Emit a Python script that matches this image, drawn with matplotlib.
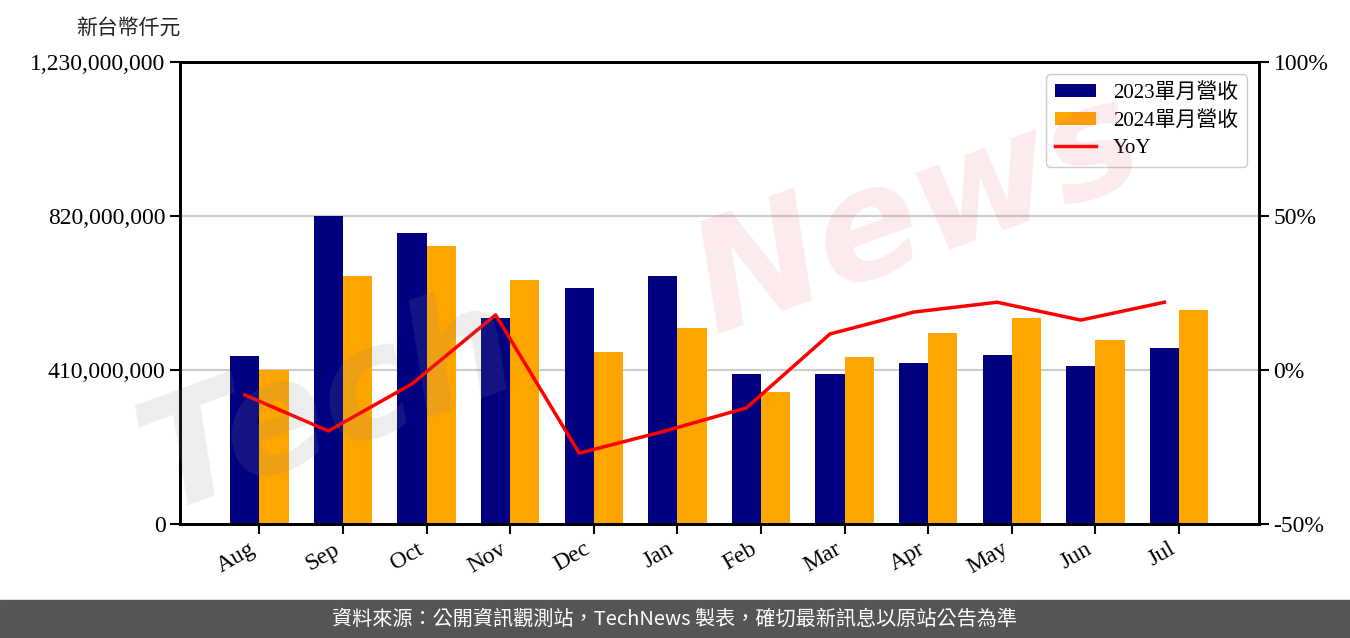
import matplotlib

matplotlib.use("Agg")
import matplotlib.pyplot as plt
import numpy as np
from matplotlib.ticker import FuncFormatter

months = ["Aug", "Sep", "Oct", "Nov", "Dec", "Jan", "Feb", "Mar", "Apr", "May", "Jun", "Jul"]
rev_2023 = [447e6, 820e6, 775e6, 548e6, 628e6, 660e6, 399e6, 399e6, 429e6, 450e6, 421e6, 468e6]
rev_2024 = [410e6, 660e6, 740e6, 650e6, 458e6, 522e6, 351e6, 445e6, 508e6, 548e6, 490e6, 570e6]
yoy = [-8.1, -19.8, -4.5, 17.9, -27.0, -20.0, -12.3, 11.7, 18.8, 22.0, 16.2, 22.0]
left_ticks = [0, 410e6, 820e6, 1230e6]
right_ticks = [-50, 0, 50, 100]

SERIF = ["Liberation Serif", "Noto Sans CJK TC"]
CJK = ["Noto Sans CJK TC", "DejaVu Sans"]

fig = plt.figure(figsize=(13.5, 6.38), dpi=100)
ax = fig.add_axes([180 / 1350, 1 - 524 / 638, 1079 / 1350, 462 / 638])
ax2 = ax.twinx()

x = np.arange(len(months))
w = 0.35
ax.bar(x - w / 2, rev_2023, w, color="#000080", label="2023單月營收", zorder=2)
ax.bar(x + w / 2, rev_2024, w, color="#ffa500", label="2024單月營收", zorder=2)
line, = ax2.plot(x - w / 2, yoy, color="red", lw=2.5, label="YoY", zorder=3)

ax.set_xlim(-0.95, len(months) - 1 + 0.957)
ax.set_ylim(0, 1230e6)
ax2.set_ylim(-50, 100)
ax.set_yticks(left_ticks)
ax.yaxis.set_major_formatter(FuncFormatter(lambda v, p: f"{int(v):,}"))
ax2.set_yticks(right_ticks)
ax2.yaxis.set_major_formatter(FuncFormatter(lambda v, p: f"{int(v)}%"))
ax.grid(axis="y", color="#cccccc", lw=1.5, zorder=0)

ax.set_xticks(x)
ax.set_xticklabels(months, rotation=30, ha="right", fontsize=16, family=SERIF)
for a in (ax, ax2):
    for s in a.spines.values():
        s.set_linewidth(2)
    a.tick_params(width=1.5, length=7, labelsize=17)
    for lab in a.get_yticklabels():
        lab.set_family(SERIF)

fig.text(128 / 1350, 1 - 28 / 638, "新台幣仟元", ha="center", va="center",
         fontsize=15, family=CJK, color="#222222")

h1, l1 = ax.get_legend_handles_labels()
leg = ax2.legend(h1 + [line], l1 + ["YoY"], loc="upper right",
                 prop={"family": SERIF, "size": 15}, handlelength=2.0,
                 handleheight=0.6, borderaxespad=0.6, labelspacing=0.4,
                 framealpha=1)

# watermark
fig.text(0.09, 0.2, "Tech", fontsize=110, fontweight="bold", style="italic",
         color="#888888", alpha=0.15, rotation=20, zorder=10)
fig.text(0.5, 0.48, "News", fontsize=110, fontweight="bold", style="italic",
         color="#e06070", alpha=0.13, rotation=20, zorder=10)

# footer band
fig.patches.append(plt.Rectangle((0, 0), 1, 38 / 638, transform=fig.transFigure,
                                 color="#555555", zorder=0))
fig.text(0.5, 19 / 638, "資料來源：公開資訊觀測站，TechNews 製表，確切最新訊息以原站公告為準",
         ha="center", va="center", color="white", fontsize=14.5, family=CJK)

fig.savefig("out.png", dpi=100)
